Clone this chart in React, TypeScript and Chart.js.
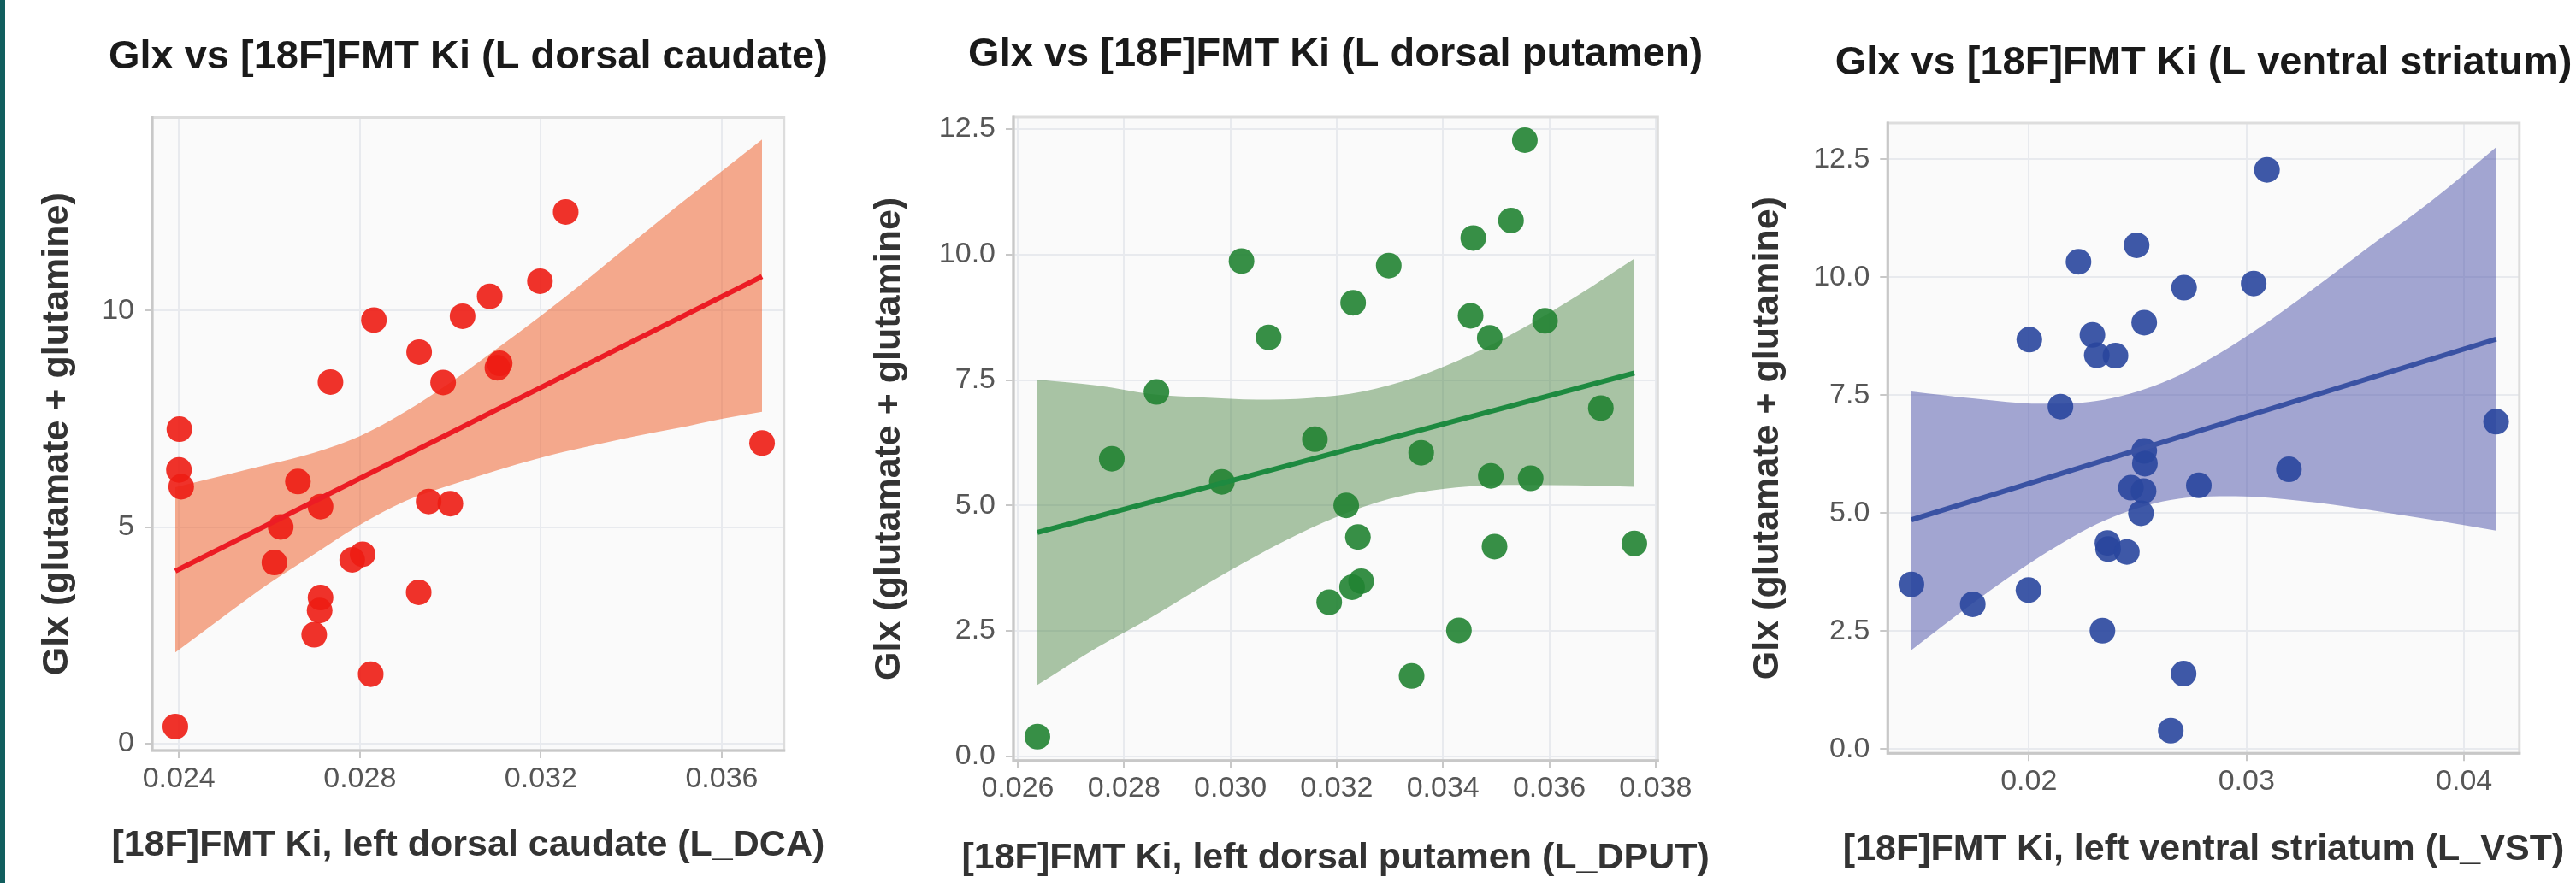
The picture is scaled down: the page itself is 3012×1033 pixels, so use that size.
import React, { useEffect, useRef } from "react";
import { Chart, registerables } from "chart.js";

Chart.register(...registerables);

const FIG_W = 3012;
const FIG_H = 1033;
const FONT = '"Liberation Sans", Arial, Helvetica, sans-serif';

// ---------------- data ----------------
const GLX = [12.28, 10.68, 10.33, 9.87, 9.78, 9.04, 8.78, 8.68, 8.35, 8.34, 7.26, 6.94, 6.32, 6.05, 5.93, 5.59, 5.54, 5.47, 5.0, 4.37, 4.24, 4.18, 3.49, 3.37, 3.07, 2.51, 1.6, 0.39];

const KI_L_DCA = [0.03255, 0.03198, 0.03087, 0.03027, 0.02831, 0.02931, 0.03109, 0.03104, 0.02735, 0.02984, 0.02401, 0.03689, 0.024, 0.02663, 0.02405, 0.02952, 0.03, 0.02713, 0.02625, 0.02806, 0.02783, 0.02611, 0.0293, 0.02713, 0.02711, 0.02699, 0.02824, 0.02392];
const KI_L_DPUT = [0.03554, 0.03528, 0.03457, 0.03021, 0.03298, 0.03231, 0.03452, 0.03592, 0.03072, 0.03488, 0.02861, 0.03697, 0.03159, 0.03359, 0.02777, 0.0349, 0.03565, 0.02984, 0.03218, 0.0324, 0.0376, 0.03497, 0.03246, 0.03229, 0.03186, 0.0343, 0.03341, 0.02637];
const KI_L_VST = [0.03094, 0.02495, 0.02228, 0.03033, 0.02713, 0.0253, 0.02292, 0.02002, 0.02312, 0.02398, 0.02145, 0.04147, 0.0253, 0.02533, 0.03195, 0.02781, 0.02469, 0.02527, 0.02515, 0.02361, 0.02364, 0.0245, 0.0146, 0.01998, 0.01742, 0.02338, 0.02711, 0.02652];

// fitted lines (end points)
const FIT_DCA_X = [0.02392, 0.03689];
const FIT_DCA_Y = [3.98, 10.79];
const FIT_DPUT_X = [0.02637, 0.0376];
const FIT_DPUT_Y = [4.46, 7.64];
const FIT_VST_X = [0.0146, 0.04147];
const FIT_VST_Y = [4.86, 8.69];

// confidence bands (edges)
const BAND_DCA_X = [0.02392, 0.0251, 0.026, 0.027, 0.028, 0.029, 0.03, 0.031, 0.032, 0.033, 0.034, 0.035, 0.036, 0.03689];
const BAND_DCA_LO = [2.1, 3.02, 3.7, 4.38, 5.05, 5.6, 5.97, 6.3, 6.6, 6.85, 7.08, 7.28, 7.5, 7.66];
const BAND_DCA_HI = [5.92, 6.22, 6.45, 6.72, 7.1, 7.66, 8.34, 9.1, 9.88, 10.7, 11.55, 12.4, 13.22, 13.95];

const BAND_DPUT_X = [0.02637, 0.0275, 0.0285, 0.0295, 0.0305, 0.0315, 0.0325, 0.0335, 0.0345, 0.0355, 0.0365, 0.0376];
const BAND_DPUT_LO = [1.42, 2.17, 2.76, 3.4, 4.0, 4.54, 4.97, 5.25, 5.38, 5.41, 5.4, 5.37];
const BAND_DPUT_HI = [7.51, 7.39, 7.22, 7.15, 7.11, 7.14, 7.27, 7.56, 7.99, 8.53, 9.16, 9.92];

const BAND_VST_X = [0.0146, 0.0175, 0.0205, 0.0235, 0.0265, 0.0295, 0.0325, 0.0355, 0.0385, 0.04147];
const BAND_VST_LO = [2.1, 3.12, 4.08, 4.85, 5.28, 5.36, 5.26, 5.08, 4.86, 4.63];
const BAND_VST_HI = [7.58, 7.43, 7.32, 7.41, 7.84, 8.6, 9.56, 10.6, 11.62, 12.76];

// axes
const X_RANGE_DCA = [0.02341, 0.037375];
const Y_RANGE_DCA = [-0.164, 14.46];
const X_TICKS_DCA = [0.024, 0.028, 0.032, 0.036];
const X_LABELS_DCA = ["0.024", "0.028", "0.032", "0.036"];
const Y_TICKS_DCA = [0, 5, 10];
const Y_LABELS_DCA = ["0", "5", "10"];

const X_RANGE_DPUT = [0.02592, 0.03804];
const Y_RANGE_DPUT = [-0.085, 12.74];
const X_TICKS_DPUT = [0.026, 0.028, 0.03, 0.032, 0.034, 0.036, 0.038];
const X_LABELS_DPUT = ["0.026", "0.028", "0.030", "0.032", "0.034", "0.036", "0.038"];
const Y_TICKS_DPUT = [0, 2.5, 5, 7.5, 10, 12.5];
const Y_LABELS_DPUT = ["0.0", "2.5", "5.0", "7.5", "10.0", "12.5"];

const X_RANGE_VST = [0.013515, 0.04254];
const Y_RANGE_VST = [-0.09, 13.27];
const X_TICKS_VST = [0.02, 0.03, 0.04];
const X_LABELS_VST = ["0.02", "0.03", "0.04"];
const Y_TICKS_VST = [0, 2.5, 5, 7.5, 10, 12.5];
const Y_LABELS_VST = ["0.0", "2.5", "5.0", "7.5", "10.0", "12.5"];

// texts
const TITLES = [
  "Glx vs [18F]FMT Ki (L dorsal caudate)",
  "Glx vs [18F]FMT Ki (L dorsal putamen)",
  "Glx vs [18F]FMT Ki (L ventral striatum)",
];
const X_TITLES = [
  "[18F]FMT Ki, left dorsal caudate (L_DCA)",
  "[18F]FMT Ki, left dorsal putamen (L_DPUT)",
  "[18F]FMT Ki, left ventral striatum (L_VST)",
];
const Y_TITLE = "Glx (glutamate + glutamine)";

// ---------------- layout & style ----------------
const PANELS = [
  {
    title: TITLES[0], xTitle: X_TITLES[0],
    ki: KI_L_DCA, fitX: FIT_DCA_X, fitY: FIT_DCA_Y,
    bandX: BAND_DCA_X, bandLo: BAND_DCA_LO, bandHi: BAND_DCA_HI,
    xRange: X_RANGE_DCA, yRange: Y_RANGE_DCA,
    xTicks: X_TICKS_DCA, xLabels: X_LABELS_DCA, yTicks: Y_TICKS_DCA, yLabels: Y_LABELS_DCA,
    canvasLeft: 0, canvasWidth: 1100,
    plotLeft: 178, plotTop: 137.5, plotRight: 916.7, plotBottom: 878,
    titleBaseline: 80, xTitleBaseline: 1001, yTitleX: 79,
    pointColor: "rgba(237,28,19,0.9)", lineColor: "#EC1C24", bandColor: "rgba(238,86,30,0.5)",
  },
  {
    title: TITLES[1], xTitle: X_TITLES[1],
    ki: KI_L_DPUT, fitX: FIT_DPUT_X, fitY: FIT_DPUT_Y,
    bandX: BAND_DPUT_X, bandLo: BAND_DPUT_LO, bandHi: BAND_DPUT_HI,
    xRange: X_RANGE_DPUT, yRange: Y_RANGE_DPUT,
    xTicks: X_TICKS_DPUT, xLabels: X_LABELS_DPUT, yTicks: Y_TICKS_DPUT, yLabels: Y_LABELS_DPUT,
    canvasLeft: 1000, canvasWidth: 1040,
    plotLeft: 1185, plotTop: 137, plotRight: 1938.3, plotBottom: 889.7,
    titleBaseline: 77.3, xTitleBaseline: 1016.3, yTitleX: 1052,
    pointColor: "rgba(33,131,50,0.9)", lineColor: "#1E8A40", bandColor: "rgba(68,128,59,0.45)",
  },
  {
    title: TITLES[2], xTitle: X_TITLES[2],
    ki: KI_L_VST, fitX: FIT_VST_X, fitY: FIT_VST_Y,
    bandX: BAND_VST_X, bandLo: BAND_VST_LO, bandHi: BAND_VST_HI,
    xRange: X_RANGE_VST, yRange: Y_RANGE_VST,
    xTicks: X_TICKS_VST, xLabels: X_LABELS_VST, yTicks: Y_TICKS_VST, yLabels: Y_LABELS_VST,
    canvasLeft: 2010, canvasWidth: 1002,
    plotLeft: 2207.3, plotTop: 144, plotRight: 2945.8, plotBottom: 881.3,
    titleBaseline: 87.3, xTitleBaseline: 1006.3, yTitleX: 2078.5,
    pointColor: "rgba(41,70,157,0.9)", lineColor: "#3A52A3", bandColor: "rgba(74,80,168,0.5)",
  },
];

function makeChart(canvas: HTMLCanvasElement, p: any) {
  const bgPlugin = {
    id: "plotBg",
    beforeDraw(chart: any) {
      const { ctx, chartArea: a } = chart;
      ctx.save();
      ctx.fillStyle = "#fafafa";
      ctx.fillRect(a.left, a.top, a.right - a.left, a.bottom - a.top);
      ctx.restore();
    },
  };
  const framePlugin = {
    id: "frame",
    beforeDatasetsDraw(chart: any) {
      const { ctx, chartArea: a } = chart;
      ctx.save();
      ctx.lineWidth = 3;
      ctx.strokeStyle = "#dddddd";
      ctx.strokeRect(a.left, a.top, a.right - a.left, a.bottom - a.top);
      ctx.strokeStyle = "#c8c8c8";
      ctx.beginPath();
      ctx.moveTo(a.left, a.top - 1.5);
      ctx.lineTo(a.left, a.bottom);
      ctx.lineTo(a.right + 1.5, a.bottom);
      ctx.stroke();
      ctx.restore();
    },
  };
  const textPlugin = {
    id: "texts",
    afterDraw(chart: any) {
      const { ctx, chartArea: a } = chart;
      const cx = (a.left + a.right) / 2;
      const cy = (a.top + a.bottom) / 2;
      ctx.save();
      ctx.textAlign = "center";
      ctx.textBaseline = "alphabetic";
      ctx.fillStyle = "#1a1a1a";
      ctx.font = `bold 47px ${FONT}`;
      ctx.fillText(p.title, cx, p.titleBaseline);
      ctx.fillStyle = "#333333";
      ctx.font = `bold 43px ${FONT}`;
      ctx.fillText(p.xTitle, cx, p.xTitleBaseline);
      ctx.translate(p.yTitleX - p.canvasLeft, cy);
      ctx.rotate(-Math.PI / 2);
      ctx.fillText(Y_TITLE, 0, 0);
      ctx.restore();
    },
  };

  const tickFont = { family: FONT, size: 34, weight: "normal" as const };
  const grid = {
    color: "#e8eaee",
    lineWidth: 2,
    tickColor: "#c8c8c8",
    tickLength: 9,
    drawTicks: true,
  };

  return new Chart(canvas, {
    type: "scatter",
    data: {
      datasets: [
        {
          type: "line",
          data: p.bandX.map((x: number, i: number) => ({ x, y: p.bandLo[i] })),
          borderColor: "rgba(0,0,0,0)",
          borderWidth: 0,
          pointRadius: 0,
          fill: false,
          cubicInterpolationMode: "monotone",
          order: 3,
        },
        {
          type: "line",
          data: p.bandX.map((x: number, i: number) => ({ x, y: p.bandHi[i] })),
          borderColor: "rgba(0,0,0,0)",
          borderWidth: 0,
          pointRadius: 0,
          backgroundColor: p.bandColor,
          fill: "-1",
          cubicInterpolationMode: "monotone",
          order: 2,
        },
        {
          type: "scatter",
          data: p.ki.map((x: number, i: number) => ({ x, y: GLX[i] })),
          pointRadius: 15,
          pointHoverRadius: 15,
          backgroundColor: p.pointColor,
          borderWidth: 0,
          order: 1,
        },
        {
          type: "line",
          data: p.fitX.map((x: number, i: number) => ({ x, y: p.fitY[i] })),
          borderColor: p.lineColor,
          borderWidth: 6,
          pointRadius: 0,
          fill: false,
          order: 0,
        },
      ],
    } as any,
    options: {
      animation: false,
      responsive: false,
      devicePixelRatio: 1,
      events: [],
      layout: {
        padding: {
          left: 0,
          top: p.plotTop,
          bottom: 0,
          right: p.canvasWidth - (p.plotRight - p.canvasLeft),
        },
      },
      plugins: {
        legend: { display: false },
        tooltip: { enabled: false },
        title: { display: false },
      },
      scales: {
        x: {
          type: "linear",
          position: "bottom",
          min: p.xRange[0],
          max: p.xRange[1],
          afterBuildTicks: (s: any) => {
            s.ticks = p.xTicks.map((v: number) => ({ value: v }));
          },
          afterFit: (s: any) => {
            s.height = FIG_H - p.plotBottom;
          },
          ticks: {
            autoSkip: false,
            maxRotation: 0,
            minRotation: 0,
            padding: 4,
            color: "#565656",
            font: tickFont,
            callback: (v: any) => {
              const i = p.xTicks.findIndex((t: number) => Math.abs(t - v) < 1e-9);
              return i >= 0 ? p.xLabels[i] : "";
            },
          },
          grid,
          border: { display: false },
        },
        y: {
          type: "linear",
          position: "left",
          min: p.yRange[0],
          max: p.yRange[1],
          afterBuildTicks: (s: any) => {
            s.ticks = p.yTicks.map((v: number) => ({ value: v }));
          },
          afterFit: (s: any) => {
            s.width = p.plotLeft - p.canvasLeft;
          },
          ticks: {
            autoSkip: false,
            padding: 12,
            color: "#565656",
            font: tickFont,
            callback: (v: any) => {
              const i = p.yTicks.findIndex((t: number) => Math.abs(t - v) < 1e-9);
              return i >= 0 ? p.yLabels[i] : "";
            },
          },
          grid,
          border: { display: false },
        },
      },
    } as any,
    plugins: [bgPlugin, framePlugin, textPlugin],
  });
}

function Panel({ p }: { p: any }) {
  const ref = useRef<HTMLCanvasElement | null>(null);
  useEffect(() => {
    if (!ref.current) return;
    const chart = makeChart(ref.current, p);
    return () => chart.destroy();
  }, [p]);
  return (
    <canvas
      ref={ref}
      width={p.canvasWidth}
      height={FIG_H}
      style={{ position: "absolute", left: p.canvasLeft, top: 0, width: p.canvasWidth, height: FIG_H }}
    />
  );
}

export default function App() {
  return (
    <div
      style={{
        position: "absolute",
        left: 0,
        top: 0,
        width: FIG_W,
        height: FIG_H,
        background: "#ffffff",
        overflow: "hidden",
      }}
    >
      <div style={{ position: "absolute", left: 0, top: 0, width: 6, height: FIG_H, background: "#115e5e" }} />
      {PANELS.map((p, i) => (
        <Panel key={i} p={p} />
      ))}
    </div>
  );
}
